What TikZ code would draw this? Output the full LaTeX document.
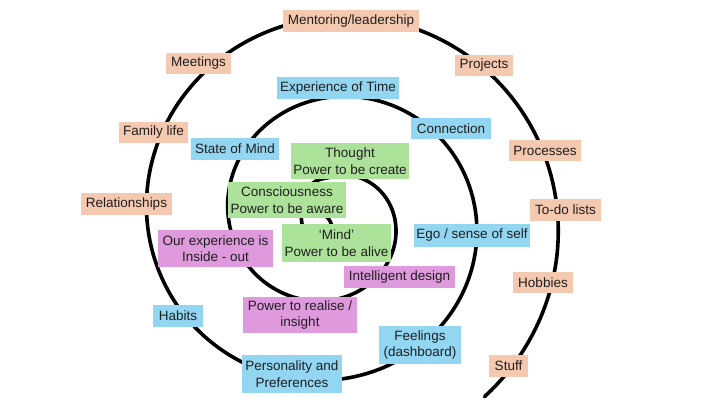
\documentclass[tikz,border=0pt]{standalone}
\usepackage{fontspec}
\setmainfont{Liberation Sans}
\definecolor{peach}{HTML}{F5C8B0}
\definecolor{skyb}{HTML}{92D6F2}
\definecolor{leaf}{HTML}{ADE29A}
\definecolor{orchid}{HTML}{DE9ADD}
\tikzset{
  box/.style={inner sep=0pt, align=center, font=\fontsize{13.5}{16.5}\selectfont, text=black!88},
  pe/.style={box, fill=peach},
  bl/.style={box, fill=skyb},
  gr/.style={box, fill=leaf},
  pk/.style={box, fill=orchid},
  wh/.style 2 args={minimum width=#1pt, minimum height=#2pt},
  spiralline/.style={line width=3.6pt, black, line cap=round, line join=round}
}
\begin{document}
\begin{tikzpicture}[x=1pt,y=-1pt]
\fill[white] (0,0) rectangle (720,405);
\useasboundingbox (0,0) rectangle (720,405);

% spiral
\draw[spiralline] plot[smooth, tension=0.6] coordinates {
  (317,212) (328,218) (332,227) (333,238) (326,247) (314,249) (305,240)
  (302,224) (301,207) (306,191) (316,181) (332,177) (343.8,175.2)}
  -- plot[domain=285:1130, samples=400, variable=\t]
  ({332+1.02*(41.5+(\t-270)*0.22222)*cos(\t)}, {218.5+(41.5+(\t-270)*0.22222)*sin(\t)});

% peach (outer)
\node[pe, wh={136}{22}] (ment) at (351,21) {Mentoring/leadership};
\node[pe, wh={65}{21}] (meet) at (198.5,63) {Meetings};
\node[pe, wh={58}{21}] (proj) at (484,65.5) {Projects};
\node[pe, wh={69}{21}] (fam) at (153.5,132.5) {Family life};
\node[pe, wh={91}{22}] (rel) at (126.5,204) {Relationships};
\node[pe, wh={72}{21}] (proc) at (545,150.5) {Processes};
\node[pe, wh={71}{22}] (todo) at (565.5,210) {To-do lists};
\node[pe, wh={60}{21}] (hob) at (543,282.5) {Hobbies};
\node[pe, wh={39}{22}] (stuff) at (508.5,366) {Stuff};

% blue (middle)
\node[bl, wh={122}{22}] (time) at (338,88) {Experience of Time};
\node[bl, wh={80}{21}] (conn) at (451,128.5) {Connection};
\node[bl, wh={88}{22}] (som) at (235,149) {State of Mind};
\node[bl, wh={116}{23}] (ego) at (472,235.5) {Ego / sense of self};
\node[bl, wh={50}{22}] (hab) at (178,316) {Habits};
\node[bl, wh={82}{38}] (feel) at (420,345) {Feelings\\(dashboard)};
\node[bl, wh={100}{38}] (pers) at (292,374) {Personality and\\Preferences};

% green (inner)
\node[gr, wh={118}{36}] (thought) at (350,161) {Thought\\Power to be create};
\node[gr, wh={118}{36}] (consc) at (287,200) {Consciousness\\Power to be aware};
\node[gr, wh={109}{38}] (mind) at (336.5,243) {‘Mind’\\Power to be alive};

% pink
\node[pk, wh={115}{37}] (inside) at (215.5,248.5) {Our experience is\\Inside - out};
\node[pk, wh={111}{22}] (intel) at (399.5,277) {Intelligent design};
\node[pk, wh={114}{36}] (real) at (300,315) {Power to realise /\\insight};
\end{tikzpicture}
\end{document}
